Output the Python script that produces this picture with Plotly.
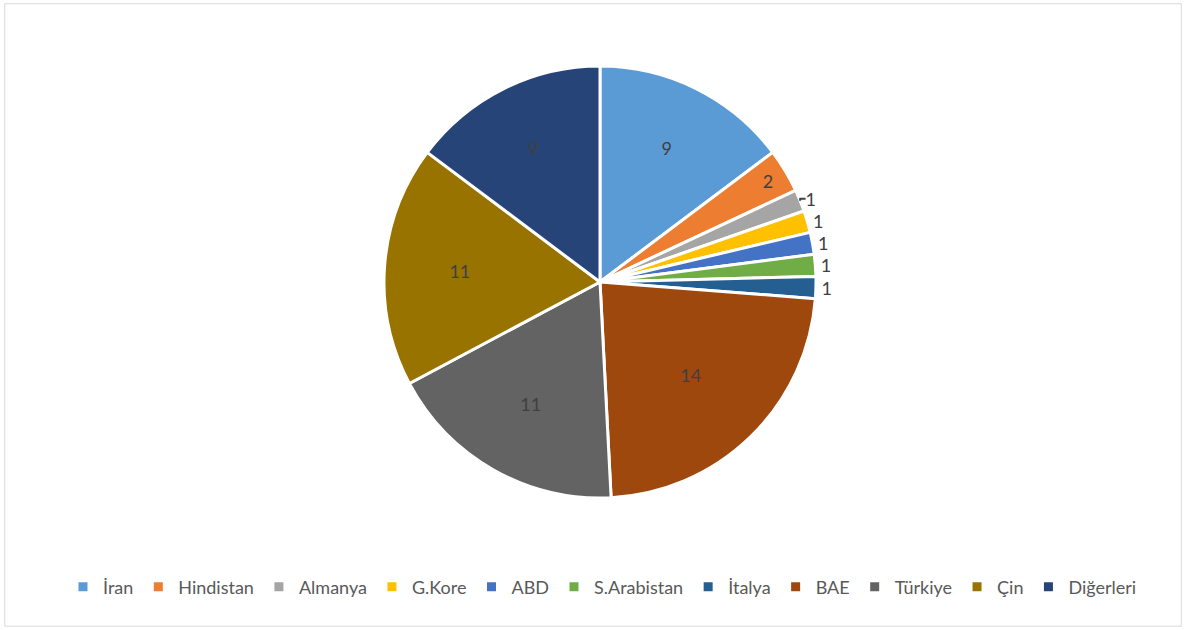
import plotly.graph_objects as go

labels = ["İran", "Hindistan", "Almanya", "G.Kore", "ABD", "S.Arabistan", "İtalya", "BAE", "Türkiye", "Çin", "Diğerleri"]
values = [9, 2, 1, 1, 1, 1, 1, 14, 11, 11, 9]
colors = ["#5B9BD5", "#ED7D31", "#A5A5A5", "#FFC000", "#4472C4", "#70AD47",
          "#255E91", "#9E480E", "#636363", "#997300", "#264478"]
text_pos = ["inside", "inside", "outside", "outside", "outside", "outside", "outside",
            "inside", "inside", "inside", "inside"]

W, H = 1186, 630
FONT = "Lato, Open Sans, Liberation Sans, sans-serif"
fig = go.Figure(go.Pie(
    labels=labels, values=values, sort=False, direction="clockwise", rotation=0,
    marker=dict(colors=colors, line=dict(color="white", width=3)),
    texttemplate="%{value}", textposition=text_pos,
    insidetextorientation="horizontal",
    textfont=dict(color="#404040", size=18, family=FONT),
    outsidetextfont=dict(color="#404040", size=18, family=FONT),
    domain=dict(x=[(600 - 216) / W, (600 + 216) / W], y=[1 - 498 / H, 1 - 66 / H]),
    hoverinfo="label+value",
))
fig.update_layout(
    width=W, height=H, margin=dict(l=0, r=0, t=0, b=0),
    paper_bgcolor="white", plot_bgcolor="white",
    font=dict(family=FONT, color="#595959", size=18),
    showlegend=True,
    legend=dict(orientation="h", x=0.508, xanchor="center", y=1 - 587 / H, yanchor="middle",
                font=dict(size=18, color="#595959", family=FONT), itemwidth=30, traceorder="normal"),
    shapes=[dict(type="rect", xref="paper", yref="paper", x0=0.004, x1=0.996, y0=0.006, y1=0.994,
                 line=dict(color="#D9D9D9", width=1), fillcolor="rgba(0,0,0,0)")],
)
fig.write_html("out.html", config={"displayModeBar": False},
               post_script="document.body.style.margin='0px';document.body.style.overflow='hidden';")
